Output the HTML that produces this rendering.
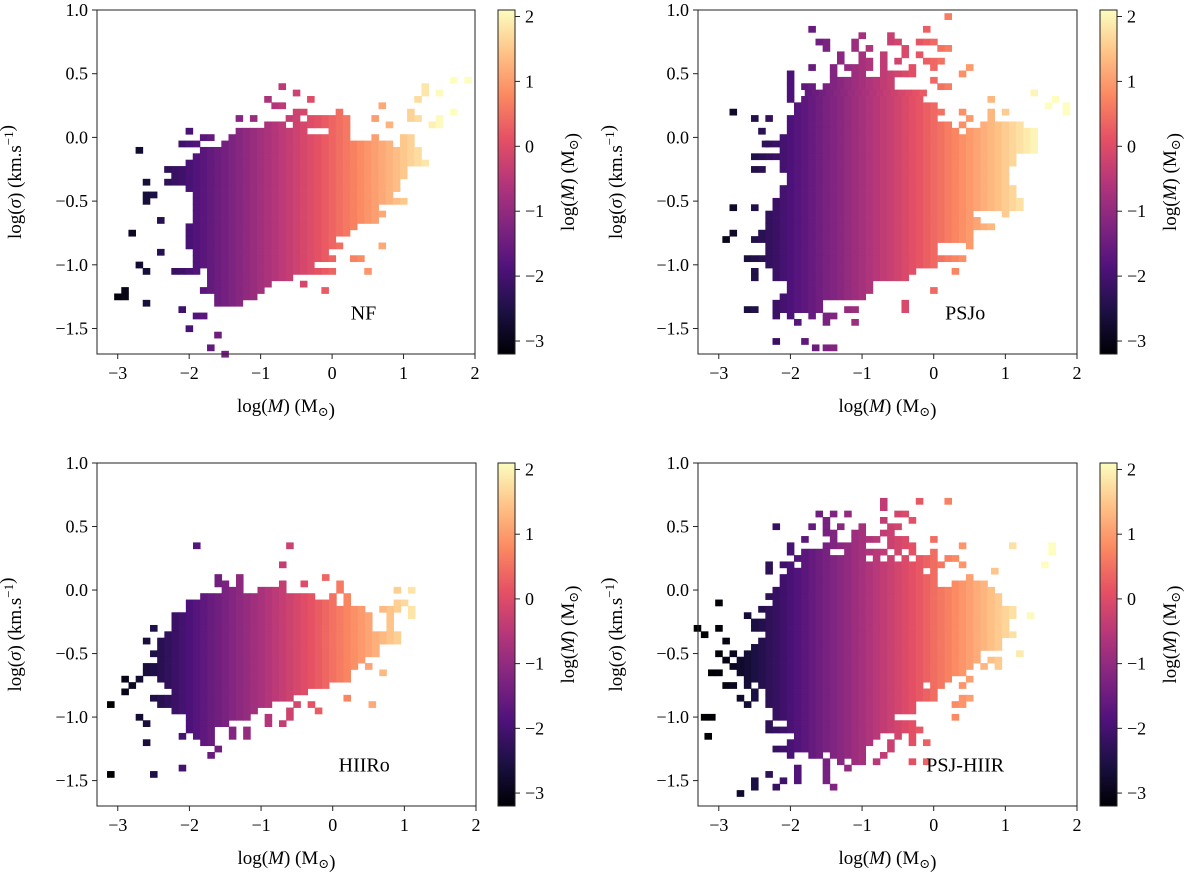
<!DOCTYPE html>
<html><head><meta charset="utf-8"><style>
html,body{margin:0;padding:0;background:#fff;}
svg{display:block;}
svg text{font-family:"Liberation Serif","DejaVu Serif",serif;}
</style></head><body>
<svg id="fig" width="1200" height="883" viewBox="0 0 1200 883" xmlns="http://www.w3.org/2000/svg" font-family="Liberation Serif, DejaVu Serif, serif">
<defs>
<linearGradient id="magma" x1="0" y1="1" x2="0" y2="0">
<stop offset="0" stop-color="#000004"/><stop offset="0.125" stop-color="#1c1044"/><stop offset="0.25" stop-color="#4f127b"/><stop offset="0.375" stop-color="#812581"/><stop offset="0.5" stop-color="#b5367a"/><stop offset="0.625" stop-color="#e55064"/><stop offset="0.75" stop-color="#fb8861"/><stop offset="0.875" stop-color="#fec287"/><stop offset="1" stop-color="#fcfdbf"/>
</linearGradient>
</defs>
</svg>
<script>
// Panel names
const panelNames = ["NF", "PSJo", "HIIRo", "PSJ-HIIR"];
// Axis ticks
const xTicks = [-3, -2, -1, 0, 1, 2];
const yTicks = [1.0, 0.5, 0.0, -0.5, -1.0, -1.5];
const cbTicks = [2, 1, 0, -1, -2, -3];
// colour = colourSlope * logM + colourOffset (bin total mass rises faster than bin centre)
const colourSlope = [1.15, 1.15, 1.2, 1.2];
const colourOffset = [0.35, 0.4, 0.5, 0.45];
// Each segment: [logSigma, logM start, logM end] of occupied bins (0.1 dex wide, 0.05 dex tall)
const segNF = [
[0.45,1.7,1.7],[0.45,1.9,1.9],[0.4,-0.7,-0.7],[0.4,1.3,1.3],[0.35,-0.5,-0.5],[0.35,1.3,1.3],[0.35,1.5,1.5],
[0.3,-0.9,-0.9],[0.3,-0.3,-0.3],[0.3,1.2,1.2],[0.25,-0.8,-0.7],[0.25,0.7,0.7],[0.2,-0.5,-0.4],[0.2,0.1,0.1],[0.2,1.1,1.1],[0.2,1.7,1.7],
[0.15,-1.3,-1.3],[0.15,-1.1,-1.1],[0.15,-0.6,-0.5],[0.15,-0.3,0.2],[0.15,0.6,0.6],[0.15,1.1,1.2],[0.15,1.5,1.5],
[0.1,-0.9,-0.7],[0.1,-0.5,0.2],[0.1,0.8,0.8],[0.1,1.4,1.5],[0.05,-2.0,-2.0],[0.05,-1.3,-0.4],[0.05,0.0,0.2],
[0.0,-1.8,-1.7],[0.0,-1.4,0.2],[0.0,0.6,0.6],[0.0,1.0,1.1],[-0.05,-2.1,-1.9],[-0.05,-1.5,0.8],[-0.05,1.0,1.1],
[-0.1,-1.8,1.2],[-0.15,-1.9,1.2],[-0.2,-2.0,1.25],[-0.25,-2.3,1.0],[-0.3,-2.2,1.0],[-0.35,-2.3,0.9],[-0.4,-2.0,0.9],
[-0.45,-1.9,0.8],[-0.5,-1.9,1.0],[-0.55,-1.9,0.6],[-0.6,-1.9,0.7],[-0.65,-1.9,0.6],[-0.7,-2.0,0.3],[-0.75,-2.0,0.2],
[-0.8,-2.0,0.0],[-0.85,-2.0,0.1],[-0.9,-1.9,-0.1],[-0.95,-1.9,0.0],[-1.0,-1.9,-0.3],[-1.05,-2.2,-1.9],[-1.05,-1.7,0.0],
[-1.1,-1.7,-0.6],[-1.15,-1.7,-0.9],[-1.2,-1.8,-1.0],[-1.25,-1.6,-1.1],[-1.3,-1.6,-1.3],
[-0.1,-2.7,-2.7],[-0.35,-2.6,-2.6],[-0.45,-2.6,-2.5],[-0.5,-2.6,-2.6],[-0.75,-2.8,-2.8],[-1.2,-2.9,-2.9],[-1.25,-3.0,-2.9],
[-1.3,-2.6,-2.6],[-0.9,-2.4,-2.4],[-1.0,-2.7,-2.7],[-1.05,-2.6,-2.6],[-0.65,-2.4,-2.4],[-1.35,-2.1,-2.1],[-1.4,-1.9,-1.8],
[-1.5,-2.0,-2.0],[-1.65,-1.7,-1.7],[-1.55,-1.6,-1.6],[-1.7,-1.5,-1.5],[-1.05,0.5,0.5],[-0.85,0.7,0.7],[-0.95,0.3,0.4],[-1.15,-0.4,-0.4],[-1.2,-0.1,-0.1]
];
const segPSJo = [
[0.95,0.2,0.2],[0.85,-1.7,-1.7],[0.85,-0.1,-0.1],[0.8,-1.0,-1.0],[0.8,-0.6,-0.6],[0.75,-1.6,-1.5],[0.75,-1.1,-1.1],[0.75,-0.6,-0.5],[0.75,-0.2,-0.05],
[0.7,-1.5,-1.5],[0.7,-1.1,-1.1],[0.7,-0.9,-0.9],[0.7,-0.4,-0.4],[0.7,0.1,0.2],[0.65,-1.3,-1.3],[0.65,-1.0,-1.0],[0.65,-0.7,-0.7],[0.65,-0.4,-0.4],[0.65,-0.2,-0.2],
[0.6,-1.3,-1.3],[0.6,-1.0,-0.9],[0.6,-0.7,-0.7],[0.6,-0.5,-0.5],[0.6,-0.1,0.1],[0.55,-1.7,-1.7],[0.55,-1.4,-1.4],[0.55,-1.2,-0.9],[0.55,-0.7,-0.7],[0.55,-0.3,-0.3],[0.55,0.0,0.0],[0.55,0.5,0.5],
[0.5,-2.0,-2.0],[0.5,-1.4,-1.4],[0.5,-1.1,-1.0],[0.5,-0.7,-0.3],[0.5,0.4,0.4],[0.45,-2.0,-2.0],[0.45,-1.4,-0.6],[0.45,0.0,0.0],
[0.4,-2.0,-2.0],[0.4,-1.8,-1.7],[0.4,-1.5,-0.6],[0.4,0.1,0.2],[0.35,-2.0,-2.0],[0.35,-1.75,-0.2],[0.35,1.4,1.4],
[0.3,-2.0,-2.0],[0.3,-1.8,-0.2],[0.3,0.8,0.8],[0.3,1.7,1.7],[0.25,-1.9,0.0],[0.25,1.6,1.6],[0.25,1.85,1.85],
[0.2,-1.9,0.1],[0.2,0.4,0.4],[0.2,0.8,0.8],[0.2,1.0,1.0],[0.2,1.85,1.85],[0.15,-2.0,0.0],[0.15,0.5,0.5],[0.15,0.8,0.8],
[0.1,-2.0,0.2],[0.1,0.4,0.4],[0.1,0.7,1.2],[0.05,-2.0,0.3],[0.05,0.5,1.4],[0.0,-2.1,1.4],[-0.05,-2.3,1.4],[-0.1,-2.1,1.4],
[-0.15,-2.5,1.1],[-0.2,-2.1,1.1],[-0.25,-2.1,1.0],[-0.3,-2.0,1.0],[-0.35,-2.0,1.0],[-0.4,-2.1,1.1],[-0.45,-2.1,1.1],
[-0.5,-2.2,1.2],[-0.55,-2.2,1.2],[-0.6,-2.3,0.5],[-0.6,1.0,1.0],[-0.65,-2.3,0.6],[-0.7,-2.3,0.8],[-0.75,-2.4,0.5],[-0.8,-2.5,0.5],
[-0.85,-2.3,0.0],[-0.9,-2.3,0.0],[-0.95,-2.4,0.4],[-1.0,-2.3,0.0],[-1.05,-2.2,-0.3],[-1.1,-2.2,-0.4],[-1.15,-2.0,-0.9],
[-1.2,-2.0,-0.9],[-1.25,-2.1,-1.0],[-1.3,-2.2,-1.6],[-1.35,-2.2,-2.0],[-1.35,-1.9,-1.6],[-1.35,-1.2,-1.1],
[-1.4,-2.2,-2.2],[-1.4,-2.0,-2.0],[-1.4,-1.7,-1.7],[-1.4,-1.5,-1.4],[-1.45,-1.9,-1.9],[-1.45,-1.5,-1.5],[-1.45,-1.1,-1.1],
[-1.6,-2.2,-2.2],[-1.6,-1.8,-1.8],[-1.65,-1.65,-1.65],[-1.65,-1.5,-1.4],
[0.2,-2.8,-2.8],[0.15,-2.5,-2.5],[0.15,-2.3,-2.3],[0.05,-2.4,-2.4],[-0.05,-2.35,-2.35],[-0.25,-2.5,-2.4],[-0.55,-2.8,-2.8],[-0.55,-2.5,-2.5],
[-0.75,-2.8,-2.8],[-0.8,-2.9,-2.9],[-0.95,-2.6,-2.5],[-1.05,-2.5,-2.5],[-1.1,-2.5,-2.5],[-1.35,-2.6,-2.5],[-1.3,-0.4,-0.4],[-1.35,-0.4,-0.4],[-1.2,0.0,0.0],[-1.05,0.3,0.3],[-0.85,0.5,0.5]
];
const segHIIRo = [
[0.35,-1.9,-1.9],[0.35,-0.6,-0.6],[0.2,-0.7,-0.7],[0.1,-1.6,-1.6],[0.1,-1.3,-1.3],[0.1,-0.1,-0.1],
[0.05,-1.6,-1.5],[0.05,-1.3,-1.3],[0.05,-0.7,-0.7],[0.05,-0.4,-0.4],[0.05,0.1,0.1],[0.0,-1.5,-1.3],[0.0,-1.0,-0.7],[0.0,0.1,0.1],[0.0,0.9,0.9],[0.0,1.1,1.1],
[-0.05,-1.8,-0.3],[-0.05,0.0,0.0],[-0.05,0.2,0.2],[-0.1,-2.0,0.0],[-0.1,0.2,0.2],[-0.1,0.9,1.0],[-0.15,-2.0,0.4],[-0.15,0.7,0.9],[-0.15,1.1,1.1],
[-0.2,-2.2,0.4],[-0.2,0.5,0.5],[-0.2,0.8,0.8],[-0.2,1.1,1.1],[-0.25,-2.2,0.5],[-0.25,0.8,0.8],[-0.3,-2.2,0.5],[-0.3,0.8,0.8],
[-0.35,-2.3,0.9],[-0.4,-2.4,0.9],[-0.45,-2.4,0.6],[-0.5,-2.5,0.6],[-0.55,-2.4,0.4],[-0.6,-2.6,0.3],[-0.6,0.5,0.5],
[-0.65,-2.6,0.2],[-0.65,0.7,0.7],[-0.7,-2.4,0.2],[-0.75,-2.3,-0.1],[-0.8,-2.2,-0.4],[-0.85,-2.5,-0.9],[-0.85,-0.8,-0.6],[-0.85,0.2,0.2],
[-0.9,-2.4,-1.0],[-0.9,-0.9,-0.9],[-0.9,-0.5,-0.5],[-0.9,-0.3,-0.3],[-0.9,0.55,0.55],[-0.95,-2.2,-1.1],[-0.95,-0.6,-0.6],[-0.95,-0.2,-0.2],
[-1.0,-2.0,-1.2],[-1.0,-0.9,-0.9],[-1.0,-0.6,-0.6],[-1.05,-2.0,-1.5],[-1.05,-0.9,-0.9],[-1.05,-0.7,-0.7],
[-1.1,-2.0,-1.7],[-1.1,-1.4,-1.4],[-1.1,-1.2,-1.2],[-1.15,-2.1,-2.1],[-1.15,-1.9,-1.7],[-1.15,-1.4,-1.4],[-1.15,-1.2,-1.2],
[-1.2,-1.8,-1.7],[-1.25,-1.6,-1.6],[-1.3,-1.7,-1.7],[-1.4,-2.1,-2.1],
[-0.3,-2.5,-2.5],[-0.4,-2.6,-2.6],[-0.7,-2.7,-2.7],[-0.7,-2.9,-2.9],[-0.75,-2.8,-2.8],[-0.8,-2.9,-2.9],[-0.9,-3.1,-3.1],[-1.0,-2.7,-2.7],
[-1.05,-2.6,-2.6],[-1.2,-2.6,-2.6],[-1.45,-3.1,-3.1],[-1.45,-2.5,-2.5]
];
const segPSJHIIR = [
[0.7,-0.7,-0.7],[0.7,-0.2,-0.2],[0.7,0.2,0.2],[0.65,-0.7,-0.7],[0.6,-1.6,-1.6],[0.6,-1.4,-1.4],[0.6,-1.2,-1.2],[0.6,-0.5,-0.4],
[0.55,-1.5,-1.5],[0.55,-0.7,-0.7],[0.55,-0.3,-0.3],[0.5,-2.2,-2.2],[0.5,-1.7,-1.7],[0.5,-1.5,-1.5],[0.5,-1.3,-1.3],[0.5,-1.0,-1.0],[0.5,-0.6,-0.5],
[0.45,-1.5,-1.4],[0.45,-1.1,-1.0],[0.45,-0.7,-0.6],[0.4,-1.8,-1.8],[0.4,-1.4,-1.4],[0.4,-1.1,-0.8],[0.4,-0.6,-0.4],[0.4,0.0,0.0],
[0.35,-2.0,-2.0],[0.35,-1.5,-1.0],[0.35,-0.6,-0.3],[0.35,0.4,0.4],[0.35,1.1,1.1],[0.35,1.65,1.65],
[0.3,-2.0,-2.0],[0.3,-1.8,-1.5],[0.3,-1.2,-0.7],[0.3,-0.5,-0.5],[0.3,-0.3,-0.3],[0.3,0.0,0.0],[0.3,1.65,1.65],
[0.25,-1.9,-1.0],[0.25,-0.8,-0.8],[0.25,-0.6,-0.6],[0.25,-0.4,-0.4],[0.25,-0.2,0.0],[0.25,0.2,0.3],[0.2,-2.3,-2.3],[0.2,-2.1,-2.0],[0.2,-1.8,0.1],[0.2,0.4,0.4],[0.2,1.55,1.55],
[0.15,-2.3,-2.3],[0.15,-2.0,-0.2],[0.15,0.0,0.0],[0.15,0.85,0.85],[0.1,-2.1,0.0],[0.1,0.5,0.5],[0.05,-2.1,0.0],[0.05,0.3,0.7],
[0.0,-2.2,0.8],[-0.05,-2.3,0.9],[-0.1,-3.0,-3.0],[-0.1,-2.2,0.9],[-0.15,-2.4,1.1],[-0.2,-2.6,-2.6],[-0.2,-2.3,1.1],[-0.2,1.35,1.35],
[-0.25,-2.5,1.0],[-0.3,-3.3,-3.3],[-0.3,-3.0,-3.0],[-0.3,-2.5,1.0],[-0.35,-3.2,-3.2],[-0.35,-2.3,1.0],[-0.35,1.1,1.1],
[-0.4,-2.9,-2.9],[-0.4,-2.4,0.9],[-0.45,-2.5,0.9],[-0.5,-3.0,-3.0],[-0.5,-2.8,-2.8],[-0.5,-2.6,0.6],[-0.5,1.2,1.2],
[-0.55,-2.9,-2.9],[-0.55,-2.7,0.6],[-0.55,0.8,0.9],[-0.6,-2.8,-2.8],[-0.6,-2.7,0.5],[-0.6,0.7,0.7],[-0.6,0.9,0.9],
[-0.65,-3.1,-3.0],[-0.65,-2.7,0.4],[-0.7,-2.6,-2.6],[-0.7,-2.5,0.2],[-0.7,0.5,0.5],[-0.75,-2.9,-2.8],[-0.75,-2.6,-2.6],[-0.75,-2.4,-0.2],[-0.75,0.0,0.1],[-0.75,0.4,0.4],
[-0.8,-2.5,-2.5],[-0.8,-2.3,0.0],[-0.85,-2.7,-2.7],[-0.85,-2.5,-2.5],[-0.85,-2.3,0.0],[-0.85,0.4,0.5],[-0.9,-2.6,-2.6],[-0.9,-2.3,-0.3],[-0.9,0.3,0.4],
[-0.95,-2.2,-0.3],[-1.0,-3.2,-3.1],[-1.0,-2.2,-0.6],[-1.0,0.3,0.3],[-1.05,-2.3,-2.3],[-1.05,-2.0,-0.3],[-1.1,-2.3,-2.3],[-1.1,-2.2,-0.2],
[-1.15,-3.15,-3.15],[-1.15,-1.9,-0.8],[-1.15,-0.5,-0.5],[-1.15,-0.3,-0.3],[-1.2,-2.0,-0.9],[-1.2,-0.6,-0.6],[-1.2,-0.3,-0.3],[-1.2,-0.1,-0.1],
[-1.25,-2.2,-1.0],[-1.25,-0.6,-0.6],[-1.3,-2.0,-2.0],[-1.3,-1.7,-1.6],[-1.3,-1.4,-1.0],[-1.3,-0.7,-0.7],
[-1.35,-1.5,-1.5],[-1.35,-1.3,-1.3],[-1.35,-1.1,-1.0],[-1.35,-0.8,-0.8],[-1.35,-0.3,-0.3],[-1.35,-0.1,-0.1],
[-1.4,-1.9,-1.9],[-1.4,-1.5,-1.5],[-1.4,-1.2,-1.2],[-1.45,-2.3,-2.3],[-1.45,-1.9,-1.9],[-1.45,-1.5,-1.5],
[-1.5,-2.5,-2.5],[-1.5,-2.1,-2.1],[-1.5,-1.9,-1.9],[-1.5,-1.5,-1.5],[-1.55,-2.5,-2.5],[-1.55,-2.2,-2.2],[-1.55,-1.4,-1.4],[-1.6,-2.7,-2.7]
];
const panelSegs = [segNF, segPSJo, segHIIRo, segPSJHIIR];

const NS = "http://www.w3.org/2000/svg";
const FONT = '"Liberation Serif", "DejaVu Serif", serif';
const svg = document.getElementById("fig");
const X0 = -3.29, X1 = 2.0, Y0 = -1.7, Y1 = 1.0, C0 = -3.2, C1 = 2.1;
const BIN_X = 0.1, BIN_Y = 0.05;
const layout = [
  {l:97, t:10, r:475, b:354, cb:498},
  {l:698, t:10, r:1077, b:354, cb:1100},
  {l:97, t:463, r:476, b:806, cb:498},
  {l:698, t:463, r:1077, b:806, cb:1100}
];
const stops = [[0,"#000004"],[0.125,"#1c1044"],[0.25,"#4f127b"],[0.375,"#812581"],[0.5,"#b5367a"],[0.625,"#e55064"],[0.75,"#fb8861"],[0.875,"#fec287"],[1,"#fcfdbf"]];
function hex(c){return [1,3,5].map(i=>parseInt(c.substr(i,2),16));}
function magma(v){
  let t=(v-C0)/(C1-C0); t=Math.max(0,Math.min(1,t));
  for(let i=0;i<stops.length-1;i++){
    if(t<=stops[i+1][0]){
      const f=(t-stops[i][0])/(stops[i+1][0]-stops[i][0]);
      const a=hex(stops[i][1]), b=hex(stops[i+1][1]);
      return "rgb("+a.map((x,k)=>Math.round(x+(b[k]-x)*f)).join(",")+")";
    }
  }
  return stops[stops.length-1][1];
}
function el(tag, attrs, parent){
  const e=document.createElementNS(NS,tag);
  for(const k in attrs) e.setAttribute(k, attrs[k]);
  (parent||svg).appendChild(e); return e;
}
function txt(s, attrs, parent){attrs["font-family"]=FONT; const e=el("text",attrs,parent); e.textContent=s; return e;}
function mlabel(parent, x, y, rot, kind){
  const e=el("text",{x:x,y:y,"font-size":"19","font-family":FONT,"text-anchor":"middle",transform:rot?`rotate(-90 ${x} ${y})`:""},parent);
  const parts = kind==="sigma"
    ? [["log(",""],["σ","italic"],[")  (km.s",""],["−1","sup"],[")",""]]
    : [["log(",""],["M","italic"],[")  (M",""],["⊙","sub"],[")",""]];
  parts.forEach(p=>{
    const s=document.createElementNS(NS,"tspan");
    s.textContent=p[0];
    if(p[1]==="italic") s.setAttribute("font-style","italic");
    if(p[1]==="sup"){s.setAttribute("font-size","13");s.setAttribute("dy","-8");}
    if(p[1]==="sub"){s.setAttribute("font-size","13");s.setAttribute("dy","4");}
    e.appendChild(s);
    if(p[1]==="sup"||p[1]==="sub"){const r=document.createElementNS(NS,"tspan");r.setAttribute("dy",p[1]==="sup"?"8":"-4");e.appendChild(r);}
  });
  return e;
}

layout.forEach((L, p)=>{
  const g=el("g",{});
  
  
  const xs=v=>L.l+(v-X0)/(X1-X0)*(L.r-L.l);
  const ys=v=>L.b-(v-Y0)/(Y1-Y0)*(L.b-L.t);
  const cells=el("g",{},g);
  
  
  const cw=xs(BIN_X)-xs(0), ch=ys(0)-ys(BIN_Y);
  panelSegs[p].forEach(s=>{
    const n=Math.round((s[2]-s[1])/BIN_X);
    for(let i=0;i<=n;i++){
      const xv=s[1]+i*BIN_X;
      const r=el("rect",{x:(xs(xv)-cw/2).toFixed(2),y:(ys(s[0])-ch/2).toFixed(2),width:(cw+0.4).toFixed(2),height:(ch+0.4).toFixed(2),fill:magma(xv*colourSlope[p]+colourOffset[p])},cells);
      
      
    }
  });
  const frame=el("rect",{x:L.l,y:L.t,width:L.r-L.l,height:L.b-L.t,fill:"none",stroke:"#222","stroke-width":"1"},g);
  
  
  xTicks.forEach(v=>{
    const x=xs(v);
    el("line",{x1:x,x2:x,y1:L.b,y2:L.b+5,stroke:"#222"},g);
    const t=txt(v<0?"−"+Math.abs(v):String(v),{x:x,y:L.b+25,"font-size":"18","text-anchor":"middle"},g);
    
    
  });
  yTicks.forEach(v=>{
    const y=ys(v);
    el("line",{x1:L.l-5,x2:L.l,y1:y,y2:y,stroke:"#222"},g);
    const t=txt((v<0?"−":"")+Math.abs(v).toFixed(1),{x:L.l-9,y:y+6,"font-size":"18","text-anchor":"end"},g);
    
    
  });
  const xl=mlabel(g,(L.l+L.r)/2,L.b+58,false,"mass");
  
  
  const yl=mlabel(g,L.l-76,(L.t+L.b)/2,true,"sigma");
  
  
  const lab=txt(panelNames[p],{x:L.l+(L.r-L.l)*0.705,y:L.t+(L.b-L.t)*0.9,"font-size":"20","text-anchor":"middle"},g);
  
  
  // colorbar
  const cbw=17;
  const cb=el("rect",{x:L.cb,y:L.t,width:cbw,height:L.b-L.t,fill:"url(#magma)",stroke:"#222","stroke-width":"1"},g);
  
  
  const cs=v=>L.b-(v-C0)/(C1-C0)*(L.b-L.t);
  cbTicks.forEach(v=>{
    const y=cs(v);
    el("line",{x1:L.cb+cbw,x2:L.cb+cbw+5,y1:y,y2:y,stroke:"#222"},g);
    const t=txt(v<0?"−"+Math.abs(v):String(v),{x:L.cb+cbw+10,y:y+6,"font-size":"18"},g);
    
    
  });
  const cl=mlabel(g,L.cb+76,(L.t+L.b)/2,true,"mass");
  
  
});
</script>
</body></html>
